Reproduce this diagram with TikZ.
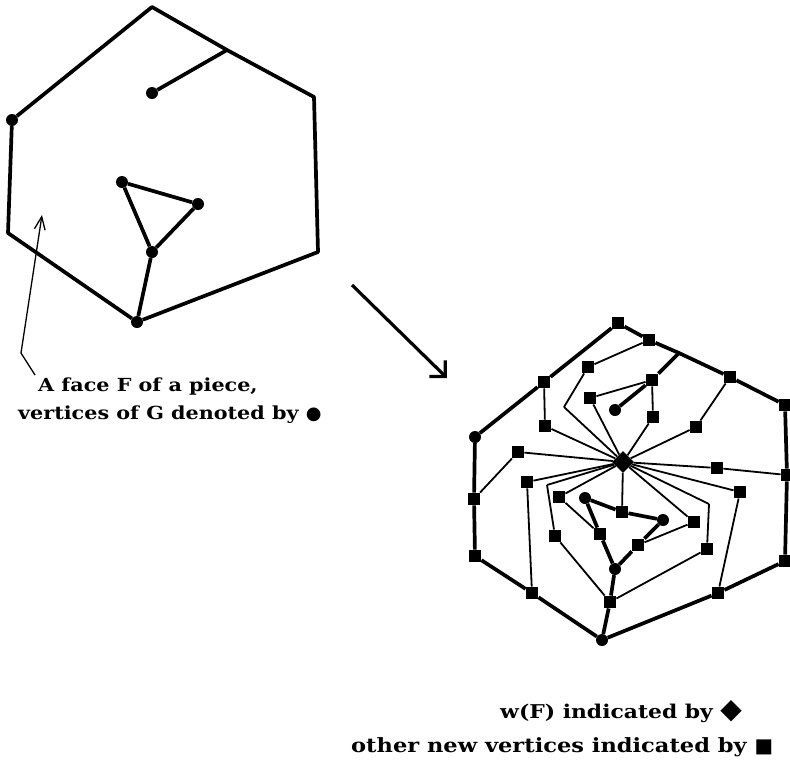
\documentclass[tikz,border=0pt]{standalone}
\usepackage{fontspec}
\setmainfont{DejaVu Serif}[FakeStretch=1.15]
\newfontfamily\symfont{DejaVu Sans}
\usetikzlibrary{shapes.geometric,arrows.meta}

\begin{document}
\begin{tikzpicture}[x=1pt, y=-1pt,
  gv/.style={circle, fill, inner sep=0pt, minimum size=12pt},
  nv/.style={rectangle, fill, inner sep=0pt, minimum size=12.5pt},
  wv/.style={diamond, fill, inner sep=0pt, minimum size=22pt},
  bold edge/.style={line width=3.7pt, line join=round},
  thin edge/.style={line width=1.8pt, line join=round},
  lbl/.style={anchor=base west, inner sep=0pt, font=\fontsize{19}{22}\selectfont\bfseries}]
\useasboundingbox (0,0) rectangle (790,764);

% Face F of a piece (left)
\coordinate (la) at (152,7);
\coordinate (lb) at (227,50);
\coordinate (lc) at (314,97);
\coordinate (ld) at (318,252);
\node[gv] (le) at (137,322) {};
\coordinate (lf) at (8,233);
\node[gv] (lg) at (12,120) {};
\node[gv] (li) at (152,93) {};
\node[gv] (lt1) at (122,182) {};
\node[gv] (lt2) at (198,204) {};
\node[gv] (lt3) at (152,252) {};

\draw[bold edge] (lg) -- (la) -- (lb) -- (lc) -- (ld) -- (le) -- (lf) -- (lg);
\draw[bold edge] (li) -- (lb);
\draw[bold edge] (lt1) -- (lt2) -- (lt3) -- (lt1);
\draw[bold edge] (lt3) -- (le);

% Labels - left
\node[lbl, font=\fontsize{18}{21}\selectfont\bfseries] (face1) at (38,391) {A face F of a piece,};
\node[lbl, font=\fontsize{18}{21}\selectfont\bfseries] (face2) at (18,419) {vertices of G denoted by {\symfont ●}};
\coordinate (pa) at (35,375);
\coordinate (pb) at (21,353);
\coordinate (pc) at (42,215);
\draw[line width=1.3pt, -{Straight Barb[angle=45:14pt]}] (pa) -- (pb) -- (pc);

% Big arrow
\coordinate (ar1) at (352,285);
\coordinate (ar2) at (447,378);
\draw[line width=3.2pt, -{Straight Barb[angle=90:16pt]}] (ar1) -- (ar2);

% Face with w(F) (right) - boundary
\node[nv] (r1) at (618,323) {};
\node[nv] (r2) at (649,340) {};
\coordinate (rb) at (679,353);
\node[nv] (r3) at (730,377) {};
\node[nv] (r4) at (785,405) {};
\node[nv] (r5) at (787,475) {};
\node[nv] (r6) at (785,561) {};
\node[nv] (r7) at (718,593) {};
\node[gv] (rbot) at (602,640) {};
\node[nv] (r8) at (532,593) {};
\node[nv] (r9) at (475,556) {};
\node[nv] (r10) at (474,499) {};
\node[gv] (rl) at (475,437) {};
\node[nv] (r11) at (544,382) {};

% inner vertices
\node[gv] (c1) at (615,410) {};
\node[nv] (q1) at (590,398) {};
\node[nv] (q2) at (652,380) {};
\node[nv] (q3) at (653,417) {};
\node[nv] (sa) at (588,367) {};
\coordinate (ka) at (564,407);
\node[nv] (sb) at (545,426) {};
\node[nv] (sc) at (518,452) {};
\node[nv] (sd) at (696,427) {};
\node[nv] (se) at (717,468) {};
\node[nv] (sf) at (740,492) {};
\coordinate (kg) at (709,504);
\node[nv] (sg) at (707,549) {};
\node[nv] (sh) at (694,522) {};
\node[nv] (si) at (638,545) {};
\node[gv] (t1) at (585,498) {};
\node[gv] (t2) at (663,520) {};
\node[gv] (t3) at (615,569) {};
\node[nv] (s12) at (622,512) {};
\node[nv] (s13) at (600,534) {};
\node[nv] (q4) at (559,497) {};
\coordinate (kb) at (547,485);
\node[nv] (q5) at (555,536) {};
\node[nv] (q6) at (527,482) {};
\node[nv] (b1) at (610,602) {};
\node[wv] (w) at (623,462) {};

% thick edges (edges of G)
\draw[bold edge] (r1) -- (r2) -- (rb) -- (r3) -- (r4) -- (r5) -- (r6) -- (r7) -- (rbot)
  -- (r8) -- (r9) -- (r10) -- (rl) -- (r11) -- (r1);
\draw[bold edge] (c1) -- (q2) -- (rb);
\draw[bold edge] (t1) -- (s12) -- (t2) -- (si) -- (t3) -- (s13) -- (t1);
\draw[bold edge] (t3) -- (b1) -- (rbot);

% star at w(F)
\foreach \v in {ka,q1,q3,sd,se,sf,kg,sh,s12,q4,kb,q6,sc,sb}
  \draw[thin edge] (w) -- (\v);

% other new edges
\draw[thin edge] (ka) -- (sa) -- (r2);
\draw[thin edge] (q1) -- (q2) -- (q3);
\draw[thin edge] (sd) -- (r3);
\draw[thin edge] (se) -- (r5);
\draw[thin edge] (sf) -- (r7);
\draw[thin edge] (kg) -- (sg) -- (b1);
\draw[thin edge] (sh) -- (si);
\draw[thin edge] (q4) -- (s13);
\draw[thin edge] (kb) -- (q5) -- (b1);
\draw[thin edge] (q6) -- (r8);
\draw[thin edge] (sc) -- (r10);
\draw[thin edge] (sb) -- (r11);

% Labels - right
\node[lbl] (wlbl) at (500,718) {w(F) indicated by {\symfont\fontsize{28}{28}\selectfont ◆}};
\node[lbl, font=\fontsize{19.6}{22}\selectfont\bfseries] (nlbl) at (351,752) {other new vertices indicated by {\symfont ■}};

\end{tikzpicture}
\end{document}
